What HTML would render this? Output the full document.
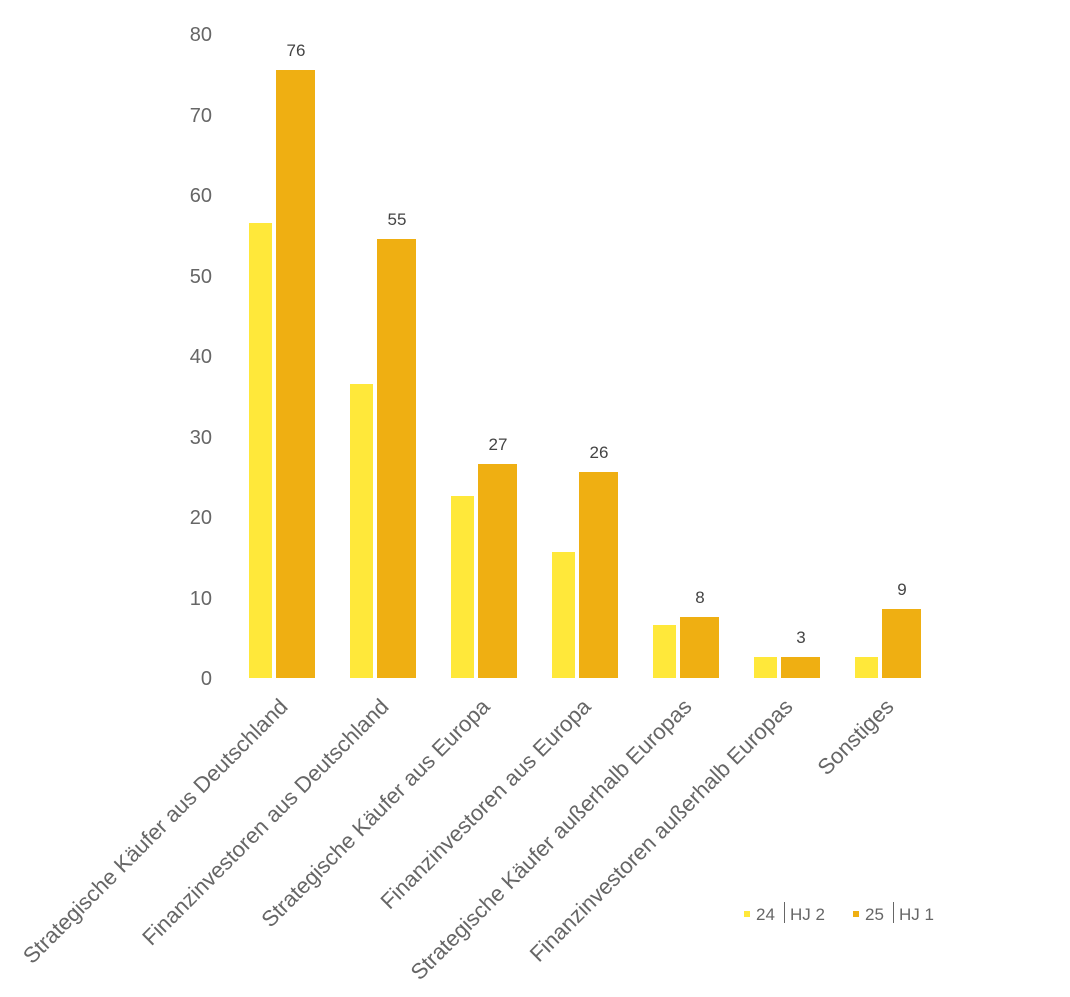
<!DOCTYPE html>
<html><head><meta charset="utf-8"><style>body{margin:0;background:#fff}svg{display:block}</style></head>
<body>
<svg width="1070" height="997" xmlns="http://www.w3.org/2000/svg" font-family="Liberation Sans, sans-serif">
<g fill="#666" font-size="20" text-anchor="end">
<text x="212" y="685">0</text><text x="212" y="605">10</text><text x="212" y="524">20</text><text x="212" y="444">30</text><text x="212" y="363">40</text><text x="212" y="283">50</text><text x="212" y="202">60</text><text x="212" y="122">70</text><text x="212" y="41">80</text>
</g>
<g fill="#FFE83A">
<rect x="249" y="223" width="23" height="455"/><rect x="350" y="384" width="23" height="294"/><rect x="451" y="496" width="23" height="182"/><rect x="552" y="552" width="23" height="126"/><rect x="653" y="625" width="23" height="53"/><rect x="754" y="657" width="23" height="21"/><rect x="855" y="657" width="23" height="21"/>
</g>
<g fill="#EFAF12">
<rect x="276" y="70" width="39" height="608"/><rect x="377" y="239" width="39" height="439"/><rect x="478" y="464" width="39" height="214"/><rect x="579" y="472" width="39" height="206"/><rect x="680" y="617" width="39" height="61"/><rect x="781" y="657" width="39" height="21"/><rect x="882" y="609" width="39" height="69"/>
</g>
<g fill="#444" font-size="17" text-anchor="middle">
<text x="296" y="56">76</text><text x="397" y="225">55</text><text x="498" y="450">27</text><text x="599" y="458">26</text><text x="700" y="603">8</text><text x="801" y="643">3</text><text x="902" y="595">9</text>
</g>
<g fill="#666" font-size="22" text-anchor="end">
<text transform="translate(289,708) rotate(-45)">Strategische Käufer aus Deutschland</text>
<text transform="translate(390,708) rotate(-45)">Finanzinvestoren aus Deutschland</text>
<text transform="translate(491,708) rotate(-45)">Strategische Käufer aus Europa</text>
<text transform="translate(592,708) rotate(-45)">Finanzinvestoren aus Europa</text>
<text transform="translate(693,708) rotate(-45)">Strategische Käufer außerhalb Europas</text>
<text transform="translate(794,708) rotate(-45)">Finanzinvestoren außerhalb Europas</text>
<text transform="translate(895,708) rotate(-45)">Sonstiges</text>
</g>
<rect x="744" y="911" width="6" height="6" fill="#FFE83A"/>
<rect x="853" y="911" width="6" height="6" fill="#EFAF12"/>
<g fill="#666" font-size="17">
<text x="756" y="920">24</text><rect x="784" y="902" width="1" height="21" fill="#666"/><text x="790" y="920">HJ 2</text>
<text x="865" y="920">25</text><rect x="893" y="902" width="1" height="21" fill="#666"/><text x="899" y="920">HJ 1</text>
</g>
</svg>
</body></html>
